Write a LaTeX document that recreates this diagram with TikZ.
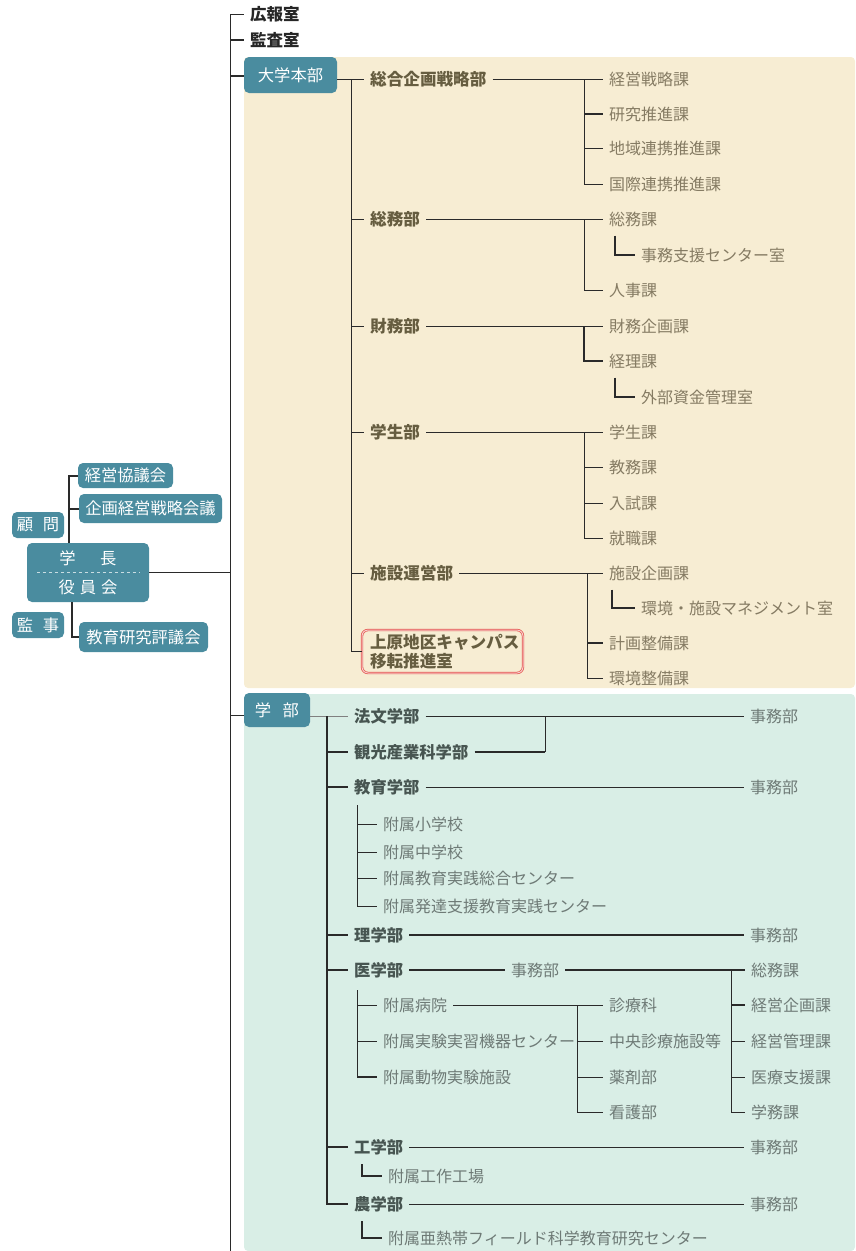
\documentclass[tikz,border=0pt]{standalone}
\usepackage{fontspec}
\setmainfont{Noto Sans CJK JP}
\usepackage{tikz}
\usetikzlibrary{positioning}
\usepackage{xcolor}

\definecolor{tealbox}{HTML}{4A8C9F}
\definecolor{hqpanel}{HTML}{F7EDD3}
\definecolor{facpanel}{HTML}{D9EEE6}
\definecolor{deptbrown}{HTML}{665D40}
\definecolor{secbrown}{HTML}{857B63}
\definecolor{facgray}{HTML}{475551}
\definecolor{subgray}{HTML}{6E7A76}
\definecolor{linegray}{HTML}{2A2A2A}
\definecolor{moveborder}{HTML}{E5544E}

\begin{document}
\begin{tikzpicture}[x=1pt, y=-1pt,
    % 設定樣式
    bluenode/.style={rectangle, rounded corners=5pt, fill=tealbox, text=white, inner sep=0pt, font=\fontsize{16.3}{18}\selectfont},
    topnode/.style={anchor=west, inner xsep=6pt, inner ysep=1pt, text=black!85, font=\fontsize{16.5}{18}\selectfont\bfseries},
    deptnode/.style={anchor=west, inner xsep=6pt, inner ysep=1pt, text=deptbrown, font=\fontsize{16.6}{18}\selectfont\bfseries},
    secnode/.style={anchor=west, inner xsep=6pt, inner ysep=1pt, text=secbrown, font=\fontsize{16}{18}\selectfont},
    facnode/.style={anchor=west, inner xsep=6pt, inner ysep=1pt, text=facgray, font=\fontsize{16.3}{18}\selectfont\bfseries},
    subnode/.style={anchor=west, inner xsep=6pt, inner ysep=1pt, text=subgray, font=\fontsize{16}{18}\selectfont},
    movenode/.style={rectangle, rounded corners=6pt, draw=moveborder, line width=0.7pt, double=moveborder!30, double distance=1pt, text=deptbrown, text width=145pt, align=left, inner xsep=8pt, inner ysep=0pt, minimum height=43pt, font=\fontsize{16.6}{18.5}\selectfont\bfseries},
    plainline/.style={draw=linegray, line width=0.9pt},
    heavyline/.style={draw=linegray, line width=2pt},
    ]
    \useasboundingbox (0,0) rectangle (855,1251);

    % Panels
    \fill[hqpanel, rounded corners=4pt] (244,57) rectangle (855,688);
    \fill[facpanel, rounded corners=4pt] (244,694) rectangle (855,1251);

    % Left: president and councils
    \node[bluenode, minimum width=95pt, minimum height=25pt] (mc) at (125.5,475.5) {経営協議会};
    \node[bluenode, minimum width=143pt, minimum height=29pt] (sc) at (150.5,508.5) {企画経営戦略会議};
    \node[bluenode, minimum width=52pt, minimum height=26pt] (adv) at (38,525) {顧\hspace{0.6em}問};
    \node[bluenode, minimum width=122pt, minimum height=59pt, align=center, font=\fontsize{16.3}{29}\selectfont] (pres) at (88,572.5) {学\hspace{1.5em}長\\役\hspace{0.3em}員\hspace{0.3em}会};
    \node[bluenode, minimum width=52pt, minimum height=26pt] (aud) at (38,625) {監\hspace{0.6em}事};
    \node[bluenode, minimum width=129pt, minimum height=30pt] (ec) at (143.5,637) {教育研究評議会};
    \draw[white!70!tealbox, dashed, line width=0.6pt] ([xshift=10pt]pres.west) -- ([xshift=-9pt]pres.east);

    \coordinate (lbar) at (69,0);
    \coordinate (lbarb) at (72,0);
    \draw[heavyline] (mc.west) -| (lbar |- pres.north);
    \draw[heavyline] (lbar |- sc) -- (sc.west);
    \draw[heavyline] (lbarb |- pres.south) |- (ec.west);

    % Spine
    \coordinate (spine) at (230,0);
    \coordinate (spineend) at (230,1251);
    \node[topnode] (kh) at (244,14) {広報室};
    \node[topnode] (ka) at (244,40) {監査室};
    \draw[plainline] (spine |- kh) -- (spineend);
    \draw[plainline] (spine |- kh) -- (kh.west);
    \draw[heavyline] (spine |- ka) -- (ka.west);
    \draw[plainline] (pres.east) -- (pres.east -| spine);

    % 大学本部
    \node[bluenode, minimum width=93pt, minimum height=36pt] (hq) at (290.5,75) {大学本部};
    \draw[heavyline] (spine |- 0,76) -- (hq.west |- 0,76);

    \node[deptnode] (d1) at (364,79) {総合企画戦略部};
    \node[deptnode] (d2) at (364,219) {総務部};
    \node[deptnode] (d3) at (364,326) {財務部};
    \node[deptnode] (d4) at (364,432) {学生部};
    \node[deptnode] (d5) at (364,573) {施設運営部};
    \node[movenode] (d6) at (442.5,651.5) {上原地区キャンパス\\移転推進室};

    \coordinate (hqbar) at (351,0);
    \draw[plainline] (hq.east |- d1) -- (d1.west);
    \draw[plainline] (hqbar |- d1) -- (hqbar |- d6);
    \foreach \d in {d2,d3,d4,d5,d6}
        \draw[plainline] (hqbar |- \d) -- (\d.west);

    % Sections
    \node[secnode] (s11) at (603,79) {経営戦略課};
    \node[secnode] (s12) at (603,114) {研究推進課};
    \node[secnode] (s13) at (603,148) {地域連携推進課};
    \node[secnode] (s14) at (603,184) {国際連携推進課};
    \node[secnode] (s21) at (603,219) {総務課};
    \node[secnode] (r21) at (635,255) {事務支援センター室};
    \node[secnode] (s22) at (603,290) {人事課};
    \node[secnode] (s31) at (603,326) {財務企画課};
    \node[secnode] (s32) at (603,361) {経理課};
    \node[secnode] (r32) at (635,397) {外部資金管理室};
    \node[secnode] (s41) at (603,432) {学生課};
    \node[secnode] (s42) at (603,467) {教務課};
    \node[secnode] (s43) at (603,503) {入試課};
    \node[secnode] (s44) at (603,538) {就職課};
    \node[secnode] (s51) at (603,573) {施設企画課};
    \node[secnode] (r51) at (635,608) {環境・施設マネジメント室};
    \node[secnode] (s52) at (603,643) {計画整備課};
    \node[secnode] (s53) at (603,678) {環境整備課};

    \coordinate (secbar) at (584,0);
    \coordinate (secbarb) at (587,0);
    \draw[plainline] (d1.east) -- (s11.west);
    \draw[plainline] (secbar |- s11) |- (s14.west);
    \draw[heavyline] (secbar |- s12) -- (s12.west);
    \draw[plainline] (secbar |- s13) -- (s13.west);
    \draw[plainline] (d2.east) -- (s21.west);
    \draw[plainline] (secbar |- s21) |- (s22.west);
    \draw[heavyline] ([xshift=12pt,yshift=-8pt]s21.south west) |- (r21.west);
    \draw[plainline] (d3.east) -- (s31.west);
    \draw[heavyline] (secbar |- s31) |- (s32.west);
    \draw[heavyline] ([xshift=12pt,yshift=-8pt]s32.south west) |- (r32.west);
    \draw[plainline] (d4.east) -- (s41.west);
    \draw[plainline] (secbar |- s41) |- (s44.west);
    \draw[plainline] (secbar |- s42) -- (s42.west);
    \draw[plainline] (secbar |- s43) -- (s43.west);
    \draw[plainline] (d5.east) -- (s51.west);
    \draw[plainline] (secbarb |- s51) |- (s53.west);
    \draw[heavyline] (secbarb |- s52) -- (s52.west);
    \draw[heavyline] ([xshift=9pt,yshift=-8pt]s51.south west) |- (r51.west);

    % 学部
    \node[bluenode, minimum width=66pt, minimum height=34pt] (fac) at (277,710) {学\hspace{0.7em}部};
    \draw[plainline] (spine |- 0,715) -- (fac.west |- 0,715);

    \node[facnode] (f1) at (348,716) {法文学部};
    \node[facnode] (f2) at (348,752) {観光産業科学部};
    \node[facnode] (f3) at (348,787) {教育学部};
    \node[facnode] (f4) at (348,935) {理学部};
    \node[facnode] (f5) at (348,970) {医学部};
    \node[facnode] (f6) at (348,1147) {工学部};
    \node[facnode] (f7) at (348,1204) {農学部};

    \coordinate (facbar) at (327,0);
    \draw[plainline, draw=gray] (fac.east |- f1) -- (f1.west);
    \draw[heavyline] (facbar |- f1) |- (f7.west);
    \foreach \f in {f2,f3,f4,f5,f6}
        \draw[heavyline] (facbar |- \f) -- (\f.west);

    \node[secnode, text=subgray] (j1) at (744,716) {事務部};
    \node[secnode, text=subgray] (j3) at (744,787) {事務部};
    \node[secnode, text=subgray] (j4) at (744,935) {事務部};
    \node[secnode, text=subgray] (j6) at (744,1147) {事務部};
    \node[secnode, text=subgray] (j7) at (744,1204) {事務部};

    \coordinate (join) at (545,0);
    \draw[plainline] (f1.east) -- (j1.west);
    \draw[heavyline] (f2.east) -- (join |- f2);
    \draw[plainline] (join |- f2) -- (join |- f1);
    \draw[plainline] (f3.east) -- (j3.west);
    \draw[heavyline] (f4.east) -- (j4.west);
    \draw[plainline] (f6.east) -- (j6.west);
    \draw[plainline] (f7.east) -- (j7.west);

    % 教育学部 附属
    \coordinate (subbar) at (357,0);
    \node[subnode] (e1) at (377,824) {附属小学校};
    \node[subnode] (e2) at (377,852) {附属中学校};
    \node[subnode] (e3) at (377,878) {附属教育実践総合センター};
    \node[subnode] (e4) at (377,906) {附属発達支援教育実践センター};
    \draw[plainline] (subbar |- 0,805) |- (e4.west);
    \foreach \e in {e1,e2,e3}
        \draw[plainline] (subbar |- \e) -- (\e.west);

    % 医学部
    \node[subnode] (mo) at (505,970) {事務部};
    \node[subnode] (m1) at (745,970) {総務課};
    \node[subnode] (m2) at (745,1005) {経営企画課};
    \node[subnode] (m3) at (745,1041) {経営管理課};
    \node[subnode] (m4) at (745,1077) {医療支援課};
    \node[subnode] (m5) at (745,1112) {学務課};
    \draw[heavyline] (f5.east) -- (mo.west);
    \draw[heavyline] (mo.east) -- (m1.west);
    \coordinate (medbar) at (731,0);
    \draw[plainline] (medbar |- m1) |- (m5.west);
    \draw[heavyline] (medbar |- m2) -- (m2.west);
    \draw[plainline] (medbar |- m3) -- (m3.west);
    \draw[plainline] (medbar |- m4) -- (m4.west);

    \node[subnode] (h1) at (377,1005) {附属病院};
    \node[subnode] (h2) at (377,1041) {附属実験実習機器センター};
    \node[subnode] (h3) at (377,1077) {附属動物実験施設};
    \draw[plainline] (subbar |- 0,990) -- (subbar |- h3);
    \draw[heavyline] (subbar |- h3) -- (h3.west);
    \draw[plainline] (subbar |- h1) -- (h1.west);
    \draw[plainline] (subbar |- h2) -- (h2.west);

    \node[subnode] (c1) at (603,1005) {診療科};
    \node[subnode] (c2) at (603,1041) {中央診療施設等};
    \node[subnode] (c3) at (603,1077) {薬剤部};
    \node[subnode] (c4) at (603,1112) {看護部};
    \coordinate (hospbar) at (577,0);
    \draw[plainline] (h1.east) -- (c1.west);
    \draw[plainline] (hospbar |- c1) |- (c4.west);
    \draw[plainline] (hospbar |- c2) -- (c2.west);
    \draw[plainline] (hospbar |- c3) -- (c3.west);

    % 工学部, 農学部 附属
    \node[subnode] (g1) at (382,1176) {附属工作工場};
    \node[subnode] (g2) at (382,1238) {附属亜熱帯フィールド科学教育研究センター};
    \draw[heavyline] ([xshift=14pt,yshift=-8pt]f6.south west) |- (g1.west);
    \draw[heavyline] ([xshift=14pt,yshift=-8pt]f7.south west) |- (g2.west);

\end{tikzpicture}
\end{document}
